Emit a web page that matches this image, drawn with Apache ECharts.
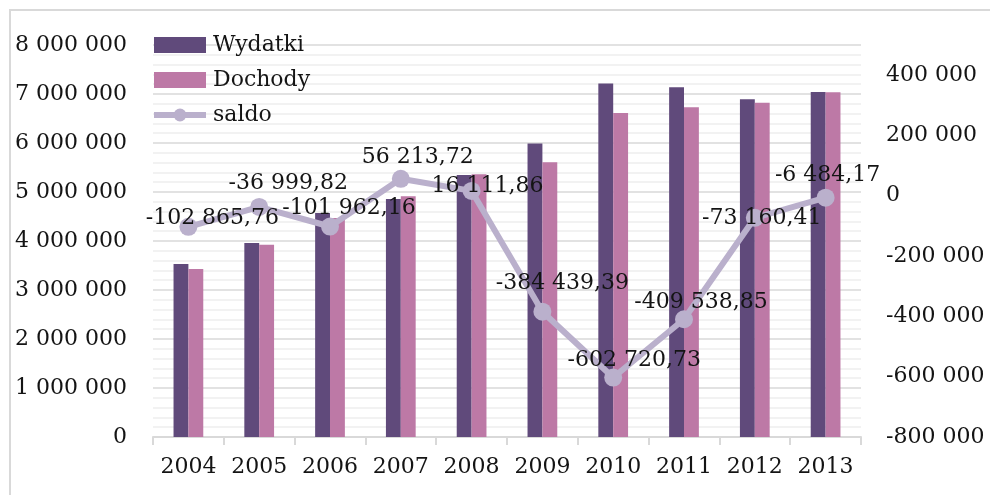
<!DOCTYPE html>
<html>
<head>
<meta charset="utf-8">
<script src="https://cdn.jsdelivr.net/npm/echarts@6/dist/echarts.min.js"></script>
<style>html,body{margin:0;padding:0;background:#fff;}#c{width:990px;height:495px;}</style>
</head>
<body>
<div id="c"></div>
<script>
const years = ['2004','2005','2006','2007','2008','2009','2010','2011','2012','2013'];
const wydatki = [3530000, 3960000, 4570000, 4855000, 5345000, 5990000, 7215000, 7140000, 6895000, 7040000];
const dochody = [3427000, 3923000, 4468000, 4911000, 5361000, 5606000, 6612000, 6730000, 6822000, 7034000];
const saldo = [-102865.76, -36999.82, -101962.16, 56213.72, 16111.86, -384439.39, -602720.73, -409538.85, -73160.41, -6484.17];
const leftTicks = {min: 0, max: 8000000, interval: 1000000};
const rightTicks = {min: -800000, max: 500000, interval: 200000};
// label offsets (layout only), relative to each point
const labelOffsets = [[24,-9],[29,-24],[19,-18],[17,-22],[16,-5],[20,-28],[21,-17],[17,-17],[7,0],[2,-22]];

function grp(s){ return s.replace(/\B(?=(\d{3})+(?!\d))/g, ' '); }
function fmtInt(v){ return (v<0?'-':'') + grp(Math.abs(Math.round(v)).toString()); }
function fmtDec(v){ const p = Math.abs(v).toFixed(2).split('.'); return (v<0?'-':'') + grp(p[0]) + ',' + p[1]; }

const FONT = 'DejaVu Serif';
const TXT = '#141414';
const LINEC = '#bab0cc';
const chart = echarts.init(document.getElementById('c'), null, {renderer: 'canvas'});
chart.setOption({
  animation: false,
  backgroundColor: '#fff',
  textStyle: {fontFamily: FONT},
  graphic: [{type: 'rect', shape: {x: 10, y: 10, width: 1000, height: 500}, style: {fill: 'none', stroke: '#d9d9d9', lineWidth: 2}, z: -1}],
  grid: {left: 153, right: 129, top: 45, bottom: 58},
  legend: {
    orient: 'vertical', left: 146, top: 29, itemWidth: 52, itemHeight: 16, itemGap: 13,
    textStyle: {fontFamily: FONT, fontSize: 22, color: TXT, lineHeight: 22, padding: [0,0,0,2]},
    data: [
      {name: 'Wydatki', icon: 'rect'},
      {name: 'Dochody', icon: 'rect'},
      {name: 'saldo', lineStyle: {width: 6, color: LINEC}, itemStyle: {color: LINEC}}
    ]
  },
  xAxis: {
    type: 'category', data: years,
    axisLine: {lineStyle: {color: '#d9d9d9', width: 2}},
    axisTick: {show: true, length: 8, lineStyle: {color: '#d9d9d9', width: 2}},
    axisLabel: {fontFamily: FONT, fontSize: 22, color: TXT, margin: 19, interval: 0}
  },
  yAxis: [{
    type: 'value', min: leftTicks.min, max: leftTicks.max, interval: leftTicks.interval,
    axisLine: {show: false}, axisTick: {show: false},
    axisLabel: {fontFamily: FONT, fontSize: 22, color: TXT, margin: 26, formatter: fmtInt},
    splitLine: {lineStyle: {color: '#d9d9d9', width: 1.5}},
    minorTick: {show: false, splitNumber: 5},
    minorSplitLine: {show: true, lineStyle: {color: '#eeeeee', width: 1.5}}
  }, {
    type: 'value', min: rightTicks.min, max: rightTicks.max, interval: rightTicks.interval,
    axisLine: {show: false}, axisTick: {show: false}, splitLine: {show: false},
    axisLabel: {fontFamily: FONT, fontSize: 22, color: TXT, margin: 25, showMaxLabel: false, formatter: fmtInt}
  }],
  series: [{
    name: 'Wydatki', type: 'bar', data: wydatki, barGap: '0%', barCategoryGap: '58%',
    itemStyle: {color: '#604a7b'}, z: 2
  }, {
    name: 'Dochody', type: 'bar', data: dochody,
    itemStyle: {color: '#bd79a6'}, z: 2
  }, {
    name: 'saldo', type: 'line', yAxisIndex: 1, z: 5,
    symbol: 'circle', symbolSize: 18,
    lineStyle: {color: LINEC, width: 6},
    itemStyle: {color: LINEC},
    data: saldo.map((v, i) => ({
      value: v,
      label: {show: true, position: 'inside', offset: labelOffsets[i], formatter: () => fmtDec(v),
        fontFamily: FONT, fontSize: 22, color: TXT}
    }))
  }]
});
</script>
</body>
</html>
